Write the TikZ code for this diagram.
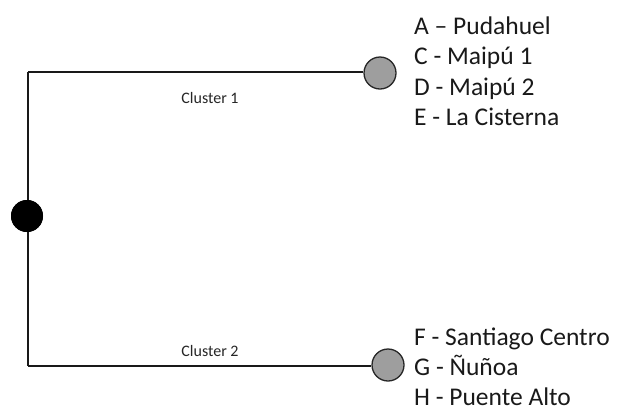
\documentclass[tikz,border=0pt]{standalone}
\usepackage{fontspec}
\setmainfont{Carlito}
\begin{document}
\begin{tikzpicture}[x=1pt,y=-1pt,
  edge/.style={line width=1.8pt,draw=black!90},
  root/.style={circle,fill=black,inner sep=0pt,minimum size=32pt},
  leaf/.style={circle,fill=black!38,draw=black!85,line width=1.3pt,inner sep=0pt,minimum size=32pt},
  item/.style={anchor=base west,inner sep=0pt,font=\fontsize{25.5}{30}\selectfont,text=black!90},
  clab/.style={anchor=base,inner sep=0pt,font=\fontsize{16}{19}\selectfont,text=black!85}]
\useasboundingbox (0,0) rectangle (617,408);
\node[root] (r) at (27,216) {};
\node[leaf] (c1) at (380,73) {};
\node[leaf] (c2) at (388,365) {};
\coordinate (t) at (28,72);
\coordinate (b) at (28,366);
\draw[edge] (t) -- (b);
\draw[edge] (t) -- (c1.west |- t);
\draw[edge] (b) -- (c2.west |- b);
\node[root] at (27,216) {};
\node[clab] (l1) at (210,103) {Cluster 1};
\node[clab] (l2) at (210,356) {Cluster 2};
\node[item] (a) at (414,34) {A – Pudahuel};
\node[item] (c) at (414,64.5) {C - Maipú 1};
\node[item] (d) at (414,95) {D - Maipú 2};
\node[item] (e) at (414,125.5) {E - La Cisterna};
\node[item] (f) at (414,345) {F - Santiago Centro};
\node[item] (g) at (414,375) {G - Ñuñoa};
\node[item] (h) at (414,405) {H - Puente Alto};
\end{tikzpicture}
\end{document}
